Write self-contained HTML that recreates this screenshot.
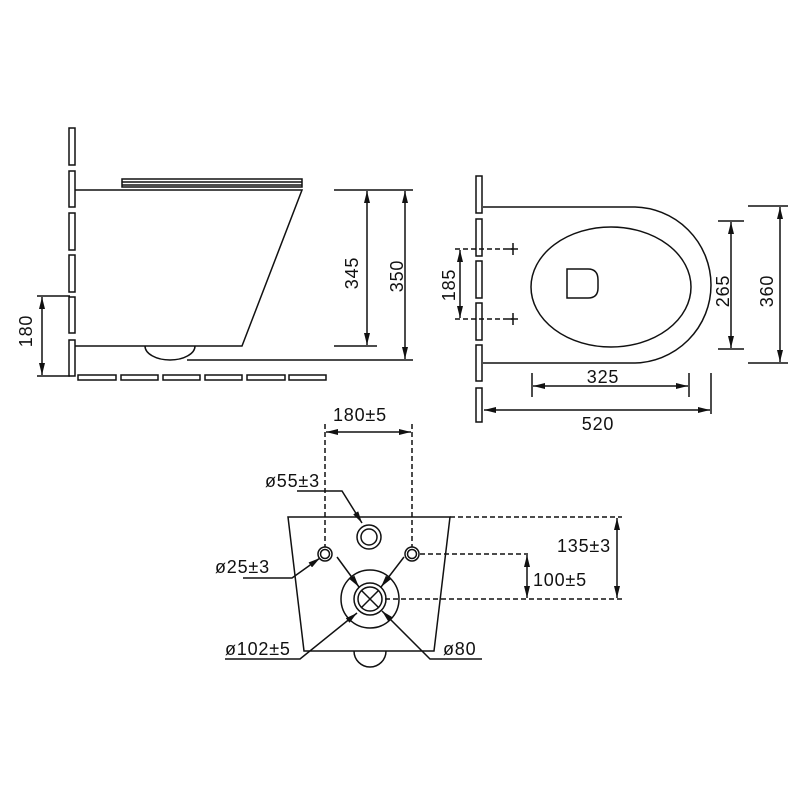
<!DOCTYPE html>
<html><head><meta charset="utf-8"><style>html,body{margin:0;padding:0;background:#fff}svg{display:block}</style></head>
<body>
<svg width="800" height="800" viewBox="0 0 800 800" xmlns="http://www.w3.org/2000/svg" font-family="Liberation Sans, Arial, sans-serif" font-size="18" letter-spacing="0.8" fill="none" stroke="#111" stroke-width="1.5">
<defs>
<marker id="a" viewBox="0 0 12 6" refX="12" refY="3" markerWidth="12" markerHeight="6" markerUnits="userSpaceOnUse" orient="auto-start-reverse"><path d="M0,0 L12,3 L0,6 Z" fill="#111" stroke="none"/></marker>
</defs>
<!-- SIDE VIEW -->
<g>
<rect x="69" y="128" width="6" height="37"/><rect x="69" y="171" width="6" height="36"/><rect x="69" y="213" width="6" height="37"/><rect x="69" y="255" width="6" height="37"/><rect x="69" y="297" width="6" height="36"/><rect x="69" y="340" width="6" height="36"/>
<rect x="78" y="375" width="38" height="5"/><rect x="121" y="375" width="37" height="5"/><rect x="163" y="375" width="37" height="5"/><rect x="205" y="375" width="37" height="5"/><rect x="247" y="375" width="38" height="5"/><rect x="289" y="375" width="37" height="5"/>
<rect x="122" y="179" width="180" height="8"/><line x1="122" y1="182" x2="302" y2="182"/><line x1="122" y1="185" x2="302" y2="185"/>
<path d="M75,190 H302 L242,346 H75"/>
<path d="M145,346 A25,14 0 0 0 195,346"/>
<line x1="334" y1="190" x2="413" y2="190"/><line x1="334" y1="346" x2="377" y2="346"/><line x1="187" y1="360" x2="413" y2="360"/>
<line x1="367" y1="191" x2="367" y2="345" marker-start="url(#a)" marker-end="url(#a)"/>
<line x1="405" y1="191" x2="405" y2="359" marker-start="url(#a)" marker-end="url(#a)"/>
<line x1="37" y1="296" x2="70" y2="296"/><line x1="37" y1="376" x2="70" y2="376"/>
<line x1="42" y1="297" x2="42" y2="375" marker-start="url(#a)" marker-end="url(#a)"/>
<g fill="#111" stroke="none" text-anchor="middle">
<text transform="translate(358,273) rotate(-90)">345</text>
<text transform="translate(403,276) rotate(-90)">350</text>
<text transform="translate(32,331) rotate(-90)">180</text>
</g>
</g>
<!-- TOP VIEW -->
<g>
<rect x="476" y="176" width="6" height="37"/><rect x="476" y="219" width="6" height="37"/><rect x="476" y="261" width="6" height="37"/><rect x="476" y="303" width="6" height="37"/><rect x="476" y="345" width="6" height="36"/><rect x="476" y="388" width="6" height="34"/>
<path d="M483,207 H633 A78,78 0 0 1 633,363 H483"/>
<ellipse cx="611" cy="287" rx="80" ry="60"/>
<path d="M567,269 H588 Q598,269 598,280 V288 Q598,298 588,298 H567 Z"/>
<g stroke-dasharray="5,3"><line x1="455" y1="249" x2="513" y2="249"/><line x1="455" y1="319" x2="513" y2="319"/></g>
<path d="M513,243 V255 M508,249 H518 M513,313 V325 M508,319 H518"/>
<line x1="460" y1="250" x2="460" y2="318" marker-start="url(#a)" marker-end="url(#a)"/>
<line x1="718" y1="221" x2="744" y2="221"/><line x1="718" y1="349" x2="744" y2="349"/>
<line x1="731" y1="222" x2="731" y2="348" marker-start="url(#a)" marker-end="url(#a)"/>
<line x1="748" y1="206" x2="788" y2="206"/><line x1="748" y1="363" x2="788" y2="363"/>
<line x1="780" y1="207" x2="780" y2="362" marker-start="url(#a)" marker-end="url(#a)"/>
<line x1="532" y1="373" x2="532" y2="397"/><line x1="689" y1="373" x2="689" y2="397"/>
<line x1="533" y1="386" x2="688" y2="386" marker-start="url(#a)" marker-end="url(#a)"/>
<line x1="711" y1="373" x2="711" y2="414"/>
<line x1="484" y1="410" x2="710" y2="410" marker-start="url(#a)" marker-end="url(#a)"/>
<g fill="#111" stroke="none" text-anchor="middle">
<text transform="translate(455,285) rotate(-90)">185</text>
<text transform="translate(729,291) rotate(-90)">265</text>
<text transform="translate(773,291) rotate(-90)">360</text>
<text x="603" y="383">325</text>
<text x="598" y="430">520</text>
</g>
</g>
<!-- BOTTOM VIEW -->
<g>
<g stroke-dasharray="5,3">
<line x1="325" y1="424" x2="325" y2="547"/><line x1="412" y1="424" x2="412" y2="547"/>
<line x1="450" y1="517" x2="622" y2="517"/>
<line x1="420" y1="554" x2="528" y2="554"/>
<line x1="385" y1="599" x2="622" y2="599"/>
</g>
<line x1="326" y1="432" x2="411" y2="432" marker-start="url(#a)" marker-end="url(#a)"/>
<path d="M304,651 L288,517 H450 L434,651 Z"/>
<path d="M354,651 A16,16 0 0 0 386,651"/>
<circle cx="369" cy="537" r="12"/><circle cx="369" cy="537" r="8"/>
<circle cx="325" cy="554" r="7"/><circle cx="325" cy="554" r="4.5"/>
<circle cx="412" cy="554" r="7"/><circle cx="412" cy="554" r="4.5"/>
<circle cx="370" cy="599" r="29"/><circle cx="370" cy="599" r="16"/><circle cx="370" cy="599" r="12"/>
<path d="M361,590 L379,608 M379,590 L361,608"/>
<line x1="527" y1="555" x2="527" y2="598" marker-start="url(#a)" marker-end="url(#a)"/>
<line x1="617" y1="518" x2="617" y2="598" marker-start="url(#a)" marker-end="url(#a)"/>
<path d="M297,491 H342 L362,523" marker-end="url(#a)"/>
<path d="M243,578 H292 L320,558" marker-end="url(#a)"/>
<line x1="337" y1="557" x2="359" y2="587" marker-end="url(#a)"/>
<line x1="404" y1="557" x2="381" y2="587" marker-end="url(#a)"/>
<path d="M225,659 H300 L357,613" marker-end="url(#a)"/>
<path d="M482,659 H430 L382,611" marker-end="url(#a)"/>
<g fill="#111" stroke="none">
<text x="333" y="421">180±5</text>
<text x="265" y="487">ø55±3</text>
<text x="215" y="573">ø25±3</text>
<text x="557" y="552">135±3</text>
<text x="533" y="586">100±5</text>
<text x="225" y="655">ø102±5</text>
<text x="443" y="655">ø80</text>
</g>
</g>
</svg>
</body></html>
